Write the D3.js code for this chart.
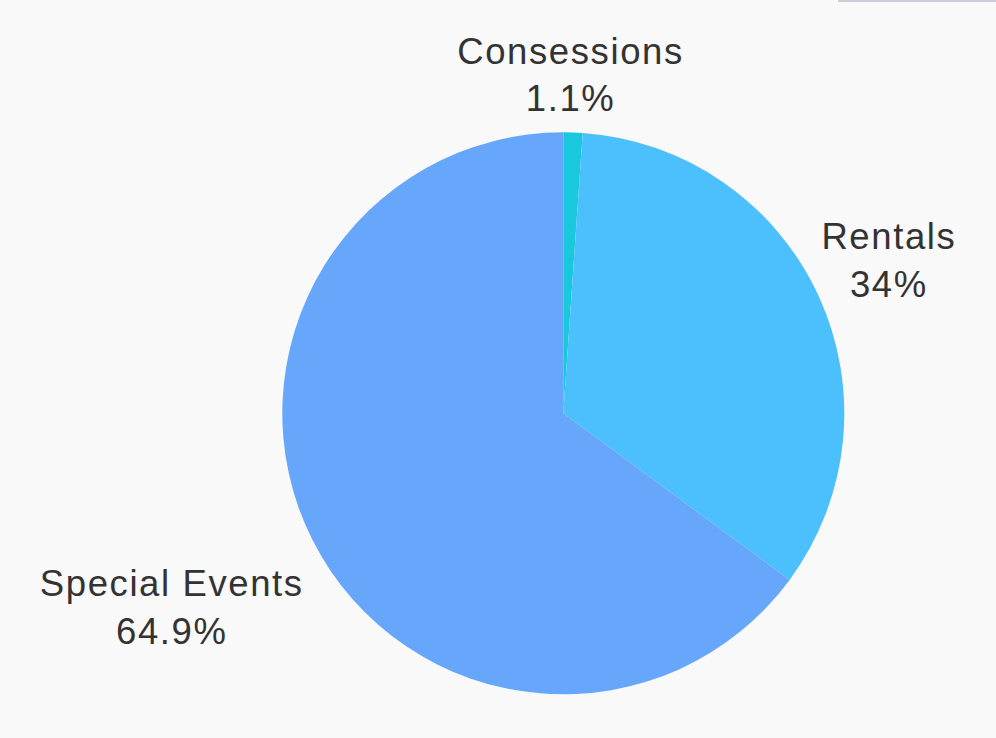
<!DOCTYPE html>
<html>
<head>
<meta charset="utf-8">
<script src="https://cdn.jsdelivr.net/npm/d3@7"></script>
<style>
  body { margin: 0; background: #f9f9f9; }
  svg { display: block; }
  .label { font-family: 'Liberation Sans', Arial, sans-serif; font-size: 36.5px; letter-spacing: 1.6px; fill: #333333; }
</style>
</head>
<body>
<svg id="canvas" width="996" height="738"></svg>
<script>
// slice data, clockwise from 12 o'clock
let categories = ['Consessions', 'Rentals', 'Special Events']
let shares = [1.1, 34, 64.9]
let shareLabels = ['1.1%', '34%', '64.9%']
let palette = ['#19c8dc', '#4bc0fc', '#66a6fb']

let width = 996
let height = 738
let cx = 563.3
let cy = 413.3
let radius = 281

let canvas = d3.select('#canvas')

// thin grey strip at the top right corner
canvas.append('rect')
  .attr('x', 838)
  .attr('y', 0)
  .attr('width', width - 838)
  .attr('height', 2)
  .attr('fill', '#c8cfd8')

let color = d3.scaleOrdinal()
  .domain(categories)
  .range(palette)

let pie = d3.pie()
  .sort(null)
  .value((d) => d.value)

let slices = pie(categories.map((name, i) => {
  return { name: name, value: shares[i], text: shareLabels[i] }
}))

let arc = d3.arc()
  .innerRadius(0)
  .outerRadius(radius)

// horizontal and vertical anchors sit on slightly different rings
let labelArcX = d3.arc()
  .innerRadius(radius + 18)
  .outerRadius(radius + 18)

let labelArcY = d3.arc()
  .innerRadius(radius + 39)
  .outerRadius(radius + 39)

let chart = canvas.append('g')
  .attr('transform', 'translate(' + cx + ', ' + cy + ')')

chart.selectAll('path')
  .data(slices)
  .enter()
  .append('path')
  .attr('d', arc)
  .attr('fill', (d) => color(d.data.name))

let lineGap = 47.5

// label layer sits a touch left of the pie centre
let labelLayer = chart.append('g')
  .attr('transform', 'translate(-7, 0)')

let labels = labelLayer.selectAll('text')
  .data(slices)
  .enter()
  .append('text')
  .attr('class', 'label')
  .attr('text-anchor', 'middle')

labels.append('tspan')
  .attr('x', 0)
  .attr('dy', 0)
  .text((d) => d.data.name)

labels.append('tspan')
  .attr('x', 0)
  .attr('dy', lineGap)
  .text((d) => d.data.text)

// push each label block outward from the rim
labels.each(function (d) {
  let node = d3.select(this)
  let w = this.getBBox().width
  let mid = (d.startAngle + d.endAngle) / 2
  let x = labelArcX.centroid(d)[0] + Math.sin(mid) * w / 2
  let py = labelArcY.centroid(d)[1]
  let baseline
  if (Math.cos(mid) >= 0) {
    baseline = py + 18 - lineGap
  } else {
    baseline = py + 38.5
  }
  node.attr('transform', 'translate(' + x + ', ' + baseline + ')')
})
</script>
</body>
</html>
